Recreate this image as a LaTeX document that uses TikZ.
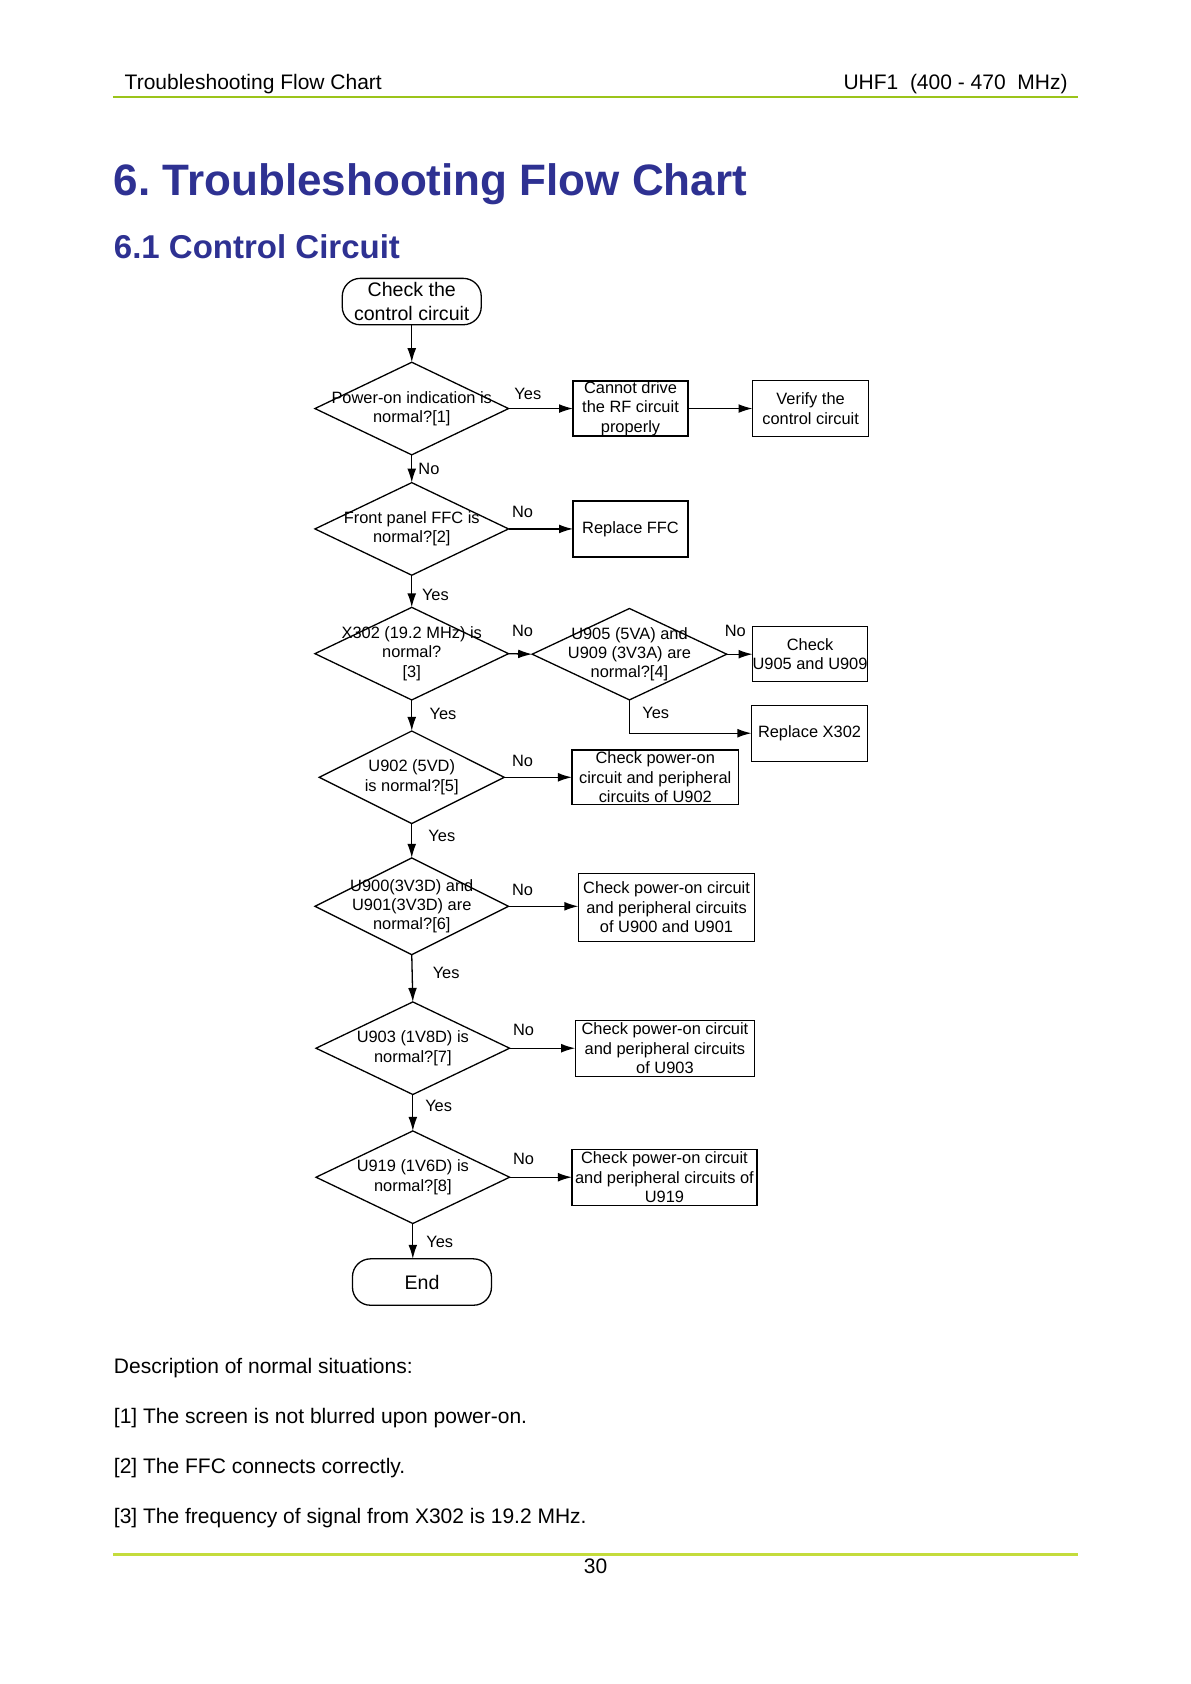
\documentclass[tikz,border=0pt]{standalone}
\usepackage{fontspec}
\setmainfont{Liberation Sans}
\usetikzlibrary{shapes.geometric,arrows.meta}
\definecolor{titleblue}{RGB}{46,49,146}
\definecolor{topgreen}{RGB}{155,196,26}
\definecolor{botgreen}{RGB}{196,220,60}
\begin{document}
\frenchspacing
\begin{tikzpicture}[x=0.5376pt,y=-0.5376pt,
  every node/.style={inner sep=0pt, outer sep=0pt},
  bodytxt/.style={font=\fontsize{10.5}{12.6}\selectfont, anchor=base west},
  flowfont/.style={font=\fontsize{8.2}{9.7}\selectfont},
  box/.style={draw, line width=0.65pt, align=center, flowfont},
  term/.style={draw, line width=0.65pt, align=center, rounded corners=9pt, font=\fontsize{9.8}{11.9}\selectfont, minimum width=69.5pt, minimum height=23.2pt},
  dia/.style={draw, shape=diamond, line width=0.65pt, minimum width=96.8pt, minimum height=46.3pt},
  dtext/.style={align=center, flowfont},
  lab/.style={flowfont},
  arr/.style={-{Latex[length=7pt,width=4.4pt]}, line width=0.65pt},
]
\useasboundingbox (0,0) rectangle (1107.7,1566.4);

% header
\node[bodytxt] (hl) at (116,83) {Troubleshooting Flow Chart};
\node[font=\fontsize{10.5}{12.6}\selectfont, anchor=base east] (hr) at (993,83) {UHF1\ \ (400 - 470\ \ MHz)};
\coordinate (hla) at (105,90);
\coordinate (hlb) at (1003,90);
\draw[topgreen, line width=1.2pt] (hla) -- (hlb);

% titles
\node[anchor=base west, font=\bfseries\fontsize{22}{26}\selectfont, text=titleblue] (title) at (106,182) {6. Troubleshooting Flow Chart};
\node[anchor=base west, font=\bfseries\fontsize{16.5}{20}\selectfont, text=titleblue] (subtitle) at (106,240) {6.1 Control Circuit};

% flowchart
\node[term] (start) at (383,280.5) {Check the\\control circuit};

\node[dia] (d1) at (383,380) {};
\node[dtext] (t1) at (d1) {Power-on indication is\\normal?[1]};
\node[box, minimum width=57.5pt, minimum height=27.4pt] (b1) at (586.5,380) {Cannot drive\\the RF circuit\\properly};
\node[box, minimum width=58.1pt, minimum height=28pt] (v) at (754,380) {Verify the\\control circuit};

\node[dia] (d2) at (383,492) {};
\node[dtext] (t2) at (d2) {Front panel FFC is\\normal?[2]};
\node[box, minimum width=57.5pt, minimum height=28pt] (rf) at (586.5,492) {Replace FFC};

\node[dia] (d3) at (383,608) {};
\node[dtext] (t3) at (d3) {X302 (19.2 MHz) is\\normal?\\{}[3]};
\node[dia, minimum width=97.3pt, minimum height=45.7pt] (d4) at (585.5,608.5) {};
\node[dtext] (t4) at (d4) {U905 (5VA) and\\U909 (3V3A) are\\normal?[4]};
\node[box, minimum width=57.5pt, minimum height=27.4pt] (c4) at (753.5,608.5) {Check\\U905 and U909};
\node[box, minimum width=58.1pt, minimum height=28pt] (rx) at (753,682) {Replace X302};

\node[dia, minimum width=92.5pt] (d5) at (383,723) {};
\node[dtext] (t5) at (d5) {U902 (5VD)\\is normal?[5]};
\node[box, minimum width=83.3pt, minimum height=27.4pt] (c5) at (609.5,723) {Check power-on\\circuit and peripheral\\circuits of U902};

\node[dia, minimum height=48.4pt] (d6) at (383,843) {};
\node[dtext] (t6) at (d6) {U900(3V3D) and\\U901(3V3D) are\\normal?[6]};
\node[box, minimum width=88.2pt, minimum height=33.9pt] (c6) at (620,844) {Check power-on circuit\\and peripheral circuits\\of U900 and U901};

\node[dia] (d7) at (384,975) {};
\node[dtext] (t7) at (d7) {U903 (1V8D) is\\normal?[7]};
\node[box, minimum width=89.8pt, minimum height=28pt] (c7) at (618.5,975) {Check power-on circuit\\and peripheral circuits\\of U903};

\node[dia] (d8) at (384,1095) {};
\node[dtext] (t8) at (d8) {U919 (1V6D) is\\normal?[8]};
\node[box, minimum width=92.5pt, minimum height=28pt] (c8) at (618,1095) {Check power-on circuit\\and peripheral circuits of\\U919};

\node[term] (end) at (392.5,1192.5) {End};

% connectors
\draw[arr] (start.south) -- (start.south |- d1.north);
\draw[arr] (d1.east) -- (d1.east -| b1.west);
\draw[arr] (b1.east) -- (b1.east -| v.west);
\draw[arr] (d1.south) -- (d2.north);
\draw[arr] (d2.east) -- (d2.east -| rf.west);
\draw[arr] (d2.south) -- (d3.north);
\draw[arr] (d3.east) -- (d4.west);
\draw[arr] (d4.east) -- (d4.east -| c4.west);
\draw[arr] (d4.south) |- (rx.west);
\draw[arr] (d3.south) -- (d5.north);
\draw[arr] (d5.east) -- (d5.east -| c5.west);
\draw[arr] (d5.south) -- (d6.north);
\draw[arr] (d6.east) -- (d6.east -| c6.west);
\draw[arr] (d6.south) -- (d7.north);
\draw[arr] (d7.east) -- (d7.east -| c7.west);
\draw[arr] (d7.south) -- (d8.north);
\draw[arr] (d8.east) -- (d8.east -| c8.west);
\draw[arr] (d8.south) -- (d8.south |- end.north);

% labels
\node[lab] (l1y) at (491,366) {Yes};
\node[lab] (l1n) at (399,436) {No};
\node[lab] (l2n) at (486,476) {No};
\node[lab] (l2y) at (405,553) {Yes};
\node[lab] (l3n) at (486,587) {No};
\node[lab] (l4n) at (684,587) {No};
\node[lab] (l4y) at (610,663) {Yes};
\node[lab] (l3y) at (412,664) {Yes};
\node[lab] (l5n) at (486,708) {No};
\node[lab] (l5y) at (411,778) {Yes};
\node[lab] (l6n) at (486,828) {No};
\node[lab] (l6y) at (415,905) {Yes};
\node[lab] (l7n) at (487,958) {No};
\node[lab] (l7y) at (408,1029) {Yes};
\node[lab] (l8n) at (487,1078) {No};
\node[lab] (l8y) at (409,1155) {Yes};

% description
\node[bodytxt] (desc) at (106,1278) {Description of normal situations:};
\node[bodytxt] (n1) at (106,1324) {[1] The screen is not blurred upon power-on.};
\node[bodytxt] (n2) at (106,1371) {[2] The FFC connects correctly.};
\node[bodytxt] (n3) at (106,1417) {[3] The frequency of signal from X302 is 19.2 MHz.};

% footer
\coordinate (fla) at (105,1446);
\coordinate (flb) at (1003,1446);
\draw[botgreen, line width=1.2pt] (fla) -- (flb);
\node[font=\fontsize{10.5}{12.6}\selectfont, anchor=base] (pg) at (554,1464) {30};
\end{tikzpicture}
\end{document}
